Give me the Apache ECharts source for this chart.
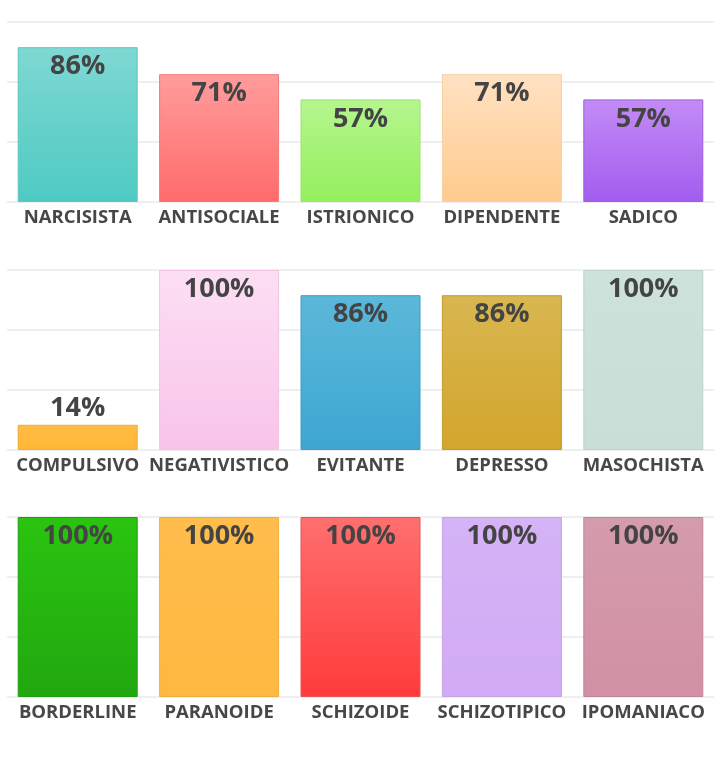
<!DOCTYPE html>
<html><head><meta charset="utf-8">
<script src="https://cdn.jsdelivr.net/npm/echarts@6/dist/echarts.min.js"></script>
<style>html,body{margin:0;padding:0;background:#fff}#c{width:720px;height:765px}</style>
</head><body><div id="c"></div>
<script>
var cats1 = ['NARCISISTA','ANTISOCIALE','ISTRIONICO','DIPENDENTE','SADICO'];
var vals1 = [86, 71, 57, 71, 57];
var cats2 = ['COMPULSIVO','NEGATIVISTICO','EVITANTE','DEPRESSO','MASOCHISTA'];
var vals2 = [14, 100, 86, 86, 100];
var cats3 = ['BORDERLINE','PARANOIDE','SCHIZOIDE','SCHIZOTIPICO','IPOMANIACO'];
var vals3 = [100, 100, 100, 100, 100];
var colors1 = [['#7fd8d3','#4ecac2'],['#ff9c9c','#ff6b6b'],['#b5f68e','#95ef5e'],['#ffe1c2','#ffcb8e'],['#c38bf6','#a35cef']];
var colors2 = [['#ffbd45','#ffb634'],['#fcdff4','#f9c3ea'],['#5cb8da','#3ea6d1'],['#d8b651','#d3a62c'],['#cde2da','#c8ded6']];
var colors3 = [['#2ac410','#21a80f'],['#ffbd4c','#ffb841'],['#ff6f6f','#ff3b3b'],['#d5b3f6','#d2aaf5'],['#d49cac','#d190a3']];
var borders1 = ['#5cc6c0','#f07a7a','#9ee06f','#f5cfa0','#9a5ee0'];
var borders2 = ['#f0ac35','#f0c5e2','#3b9fc8','#c49b2a','#bcd4cb'];
var borders3 = ['#1e9e10','#f0ae40','#e85454','#c7a2ea','#c08598'];

var rows = [[cats1, vals1, colors1, borders1],[cats2, vals2, colors2, borders2],[cats3, vals3, colors3, borders3]];
var tops = [22, 270, 517];
var H = 180;

var grids = [], xAxes = [], yAxes = [], series = [];
rows.forEach(function(r, i){
  grids.push({left: 7, right: 6, top: tops[i], height: H});
  xAxes.push({
    type: 'category', gridIndex: i, data: r[0],
    axisLine: {show: true, lineStyle: {color: '#eeeeee', width: 1}},
    axisTick: {show: false},
    axisLabel: {interval: 0, color: '#474747', fontFamily: 'Open Sans', fontWeight: 'bold', fontSize: 18.5, margin: 6}
  });
  yAxes.push({
    type: 'value', gridIndex: i, min: 0, max: 100, interval: 100/3,
    axisLabel: {show: false}, axisLine: {show: false}, axisTick: {show: false},
    splitLine: {lineStyle: {color: '#eaeaea', width: 1.5}}
  });
  series.push({
    type: 'bar', xAxisIndex: i, yAxisIndex: i, barWidth: 120,
    data: r[1].map(function(v, j){
      return {
        value: v,
        itemStyle: {
          color: new echarts.graphic.LinearGradient(0, 0, 0, 1, [{offset: 0, color: r[2][j][0]}, {offset: 1, color: r[2][j][1]}]),
          borderColor: r[3][j], borderWidth: 1
        },
        label: v < 20 ? {position: 'top', distance: 3} : {position: 'insideTop', distance: 6}
      };
    }),
    label: {
      show: true, formatter: '{c}%', color: '#444444',
      fontFamily: 'Open Sans', fontWeight: 'bold', fontSize: 27
    },
    silent: true
  });
});

var chart = echarts.init(document.getElementById('c'), null, {renderer: 'canvas'});
chart.setOption({animation: false, backgroundColor: '#ffffff', grid: grids, xAxis: xAxes, yAxis: yAxes, series: series});
</script></body></html>
